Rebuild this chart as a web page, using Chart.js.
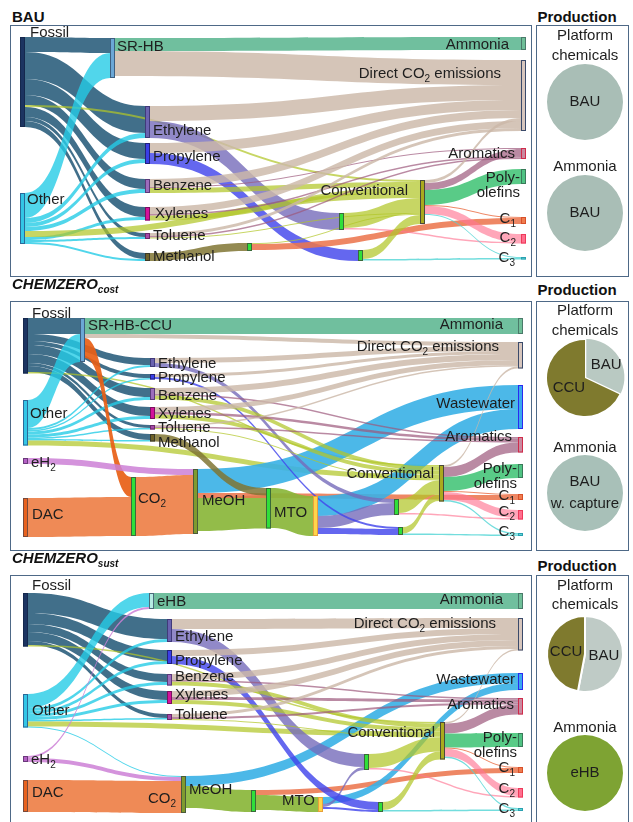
<!DOCTYPE html>
<html>
<head>
<meta charset="utf-8">
<script src="https://cdn.jsdelivr.net/npm/chart.js@4.4.1/dist/chart.umd.min.js"></script>
<style>
body { margin: 0; width: 633px; height: 822px; background: #fff; position: relative; overflow: hidden;
       font-family: "Liberation Sans", Arial, sans-serif; color: #1e1e1e; }
.box { position: absolute; border: 1.5px solid #4e6987; box-sizing: border-box; pointer-events: none; }
.txt { position: absolute; white-space: nowrap; line-height: 18px; font-size: 15px; }
.ttl { font-weight: bold; color: #111; }
.ttl sub { font-size: 10px; vertical-align: -4px; }
canvas { position: absolute; }
</style>
</head>
<body>
<script>
// ---------- data: flows (source, target, value) ----------
var bauFlows = [
    ['Fossil', 'SR-HB', 15], ['Fossil', 'Ethylene', 27], ['Fossil', 'Propylene', 16], ['Fossil', 'Benzene', 10],
    ['Fossil', 'Xylenes', 10], ['Fossil', 'Toluene', 4], ['Fossil', 'Methanol', 6], ['Fossil', 'Conventional', 2],
    ['Other', 'SR-HB', 25], ['Other', 'Ethylene', 5], ['Other', 'Propylene', 4], ['Other', 'Benzene', 4],
    ['Other', 'Xylenes', 3], ['Other', 'Toluene', 2], ['Other', 'Methanol', 2], ['Other', 'Conventional', 6],
    ['SR-HB', 'Ammonia', 13], ['SR-HB', 'DCO2', 25],
    ['Ethylene', 'DCO2', 15], ['Ethylene', 'gA', 17],
    ['Propylene', 'DCO2', 10], ['Propylene', 'gB', 11],
    ['Benzene', 'DCO2', 8], ['Benzene', 'Conventional', 5], ['Benzene', 'Aromatics', 1],
    ['Xylenes', 'DCO2', 7], ['Xylenes', 'Conventional', 5], ['Xylenes', 'Aromatics', 1.5],
    ['Toluene', 'DCO2', 3], ['Toluene', 'Aromatics', 1.5], ['Toluene', 'Conventional', 1],
    ['Methanol', 'gM', 8], ['gM', 'C1', 6], ['gM', 'Conventional', 1],
    ['gA', 'Conventional', 15], ['gA', 'C2', 1.5], ['gB', 'Conventional', 9], ['gB', 'C3', 1.5],
    ['Conventional', 'Aromatics', 7], ['Conventional', 'DCO2', 3], ['Conventional', 'Poly', 15],
    ['Conventional', 'C1', 1], ['Conventional', 'C2', 8], ['Conventional', 'C3', 1]
];

var costFlows = [
    ['Fossil', 'SR-HB-CCU', 16], ['Fossil', 'Ethylene', 7], ['Fossil', 'Propylene', 4], ['Fossil', 'Benzene', 9],
    ['Fossil', 'Xylenes', 9], ['Fossil', 'Toluene', 3], ['Fossil', 'Methanol', 6], ['Fossil', 'Conventional', 1.5],
    ['Other', 'SR-HB-CCU', 28], ['Other', 'Ethylene', 2], ['Other', 'Propylene', 1.5], ['Other', 'Benzene', 3],
    ['Other', 'Xylenes', 3], ['Other', 'Toluene', 1.5], ['Other', 'Methanol', 1.5], ['Other', 'Conventional', 5],
    ['SR-HB-CCU', 'Ammonia', 16], ['SR-HB-CCU', 'DCO2', 4], ['SR-HB-CCU', 'CO2', 20],
    ['eH2', 'MeOH', 6], ['DAC', 'CO2', 39], ['CO2', 'MeOH', 59],
    ['MeOH', 'Wastewater', 24], ['MeOH', 'MTO', 33], ['MeOH', 'C1', 5], ['Methanol', 'MTO', 7.5],
    ['MTO', 'Y', 40], ['Y', 'Wastewater', 20], ['Y', 'gA', 12], ['Y', 'gB', 6],
    ['Ethylene', 'DCO2', 5], ['Ethylene', 'gA', 4], ['Propylene', 'DCO2', 3], ['Propylene', 'gB', 2],
    ['Benzene', 'DCO2', 6], ['Benzene', 'Conventional', 4], ['Benzene', 'Aromatics', 1.5],
    ['Xylenes', 'DCO2', 5], ['Xylenes', 'Conventional', 4], ['Xylenes', 'Aromatics', 2.5],
    ['Toluene', 'DCO2', 1.5], ['Toluene', 'Aromatics', 1.5], ['Toluene', 'Conventional', 1],
    ['gA', 'Conventional', 14], ['gA', 'C2', 1.5], ['gB', 'Conventional', 6.5], ['gB', 'C3', 1.5],
    ['Conventional', 'Aromatics', 10], ['Conventional', 'DCO2', 2], ['Conventional', 'Poly', 14],
    ['Conventional', 'C1', 1], ['Conventional', 'C2', 8], ['Conventional', 'C3', 1.5]
];

var sustFlows = [
    ['Fossil', 'Ethylene', 20], ['Fossil', 'Propylene', 11], ['Fossil', 'Benzene', 8], ['Fossil', 'Xylenes', 9],
    ['Fossil', 'Toluene', 4], ['Fossil', 'Conventional', 1.5],
    ['Other', 'eHB', 14], ['Other', 'Ethylene', 3], ['Other', 'Propylene', 3], ['Other', 'Benzene', 3],
    ['Other', 'Xylenes', 3], ['Other', 'Toluene', 1.5], ['Other', 'Conventional', 5], ['Other', 'MeOH', 1],
    ['eH2', 'eHB', 2], ['eH2', 'MeOH', 4], ['DAC', 'CO2', 32], ['CO2', 'MeOH', 32],
    ['eHB', 'Ammonia', 16],
    ['MeOH', 'Wastewater', 10], ['MeOH', 'gM', 22], ['gM', 'C1', 5], ['gM', 'Y', 15],
    ['Y', 'Wastewater', 7], ['Y', 'gA', 3], ['Y', 'gB', 2],
    ['Ethylene', 'DCO2', 10], ['Ethylene', 'gA', 13], ['Propylene', 'DCO2', 6], ['Propylene', 'gB', 8],
    ['Benzene', 'DCO2', 6], ['Benzene', 'Conventional', 4], ['Benzene', 'Aromatics', 1.5],
    ['Xylenes', 'DCO2', 6], ['Xylenes', 'Conventional', 4], ['Xylenes', 'Aromatics', 3],
    ['Toluene', 'DCO2', 3], ['Toluene', 'Aromatics', 2], ['Toluene', 'Conventional', 1],
    ['gA', 'Conventional', 14], ['gA', 'C2', 1.5], ['gB', 'Conventional', 8], ['gB', 'C3', 1.5],
    ['Conventional', 'Aromatics', 10], ['Conventional', 'DCO2', 1.5], ['Conventional', 'Poly', 14],
    ['Conventional', 'C1', 1], ['Conventional', 'C2', 8], ['Conventional', 'C3', 1.5]
];

// production shares (pies)
var platformLabels = ['BAU', 'CCU'];
var bauPlatform = [100];
var costPlatform = [32, 68];
var sustPlatform = [53, 47];
var bauAmmonia = [100], bauAmmoniaLabel = ['BAU'];
var costAmmonia = [100], costAmmoniaLabel = ['BAU\nw. capture'];
var sustAmmonia = [100], sustAmmoniaLabel = ['eHB'];

// ---------- node text ----------
var nodeText = {
    DCO2: 'Direct CO_2 emissions', CO2: 'CO_2', eH2: 'eH_2', C1: 'C_1', C2: 'C_2', C3: 'C_3',
    Poly: 'Poly-\nolefins', gA: '', gB: '', gM: '', Y: ''
};

// ---------- layout: [x, top, labelX, labelY, align] in scale units ----------
var bauLayout = {
    Fossil: [10, 12, 20, 8, 'l'], Other: [10, 168, 17, 175, 'l'], 'SR-HB': [100, 13, 107, 22, 'l'],
    Ethylene: [135, 81, 143, 106, 'l'], Propylene: [135, 118, 143, 132, 'l'], Benzene: [135, 154, 143, 161, 'l'],
    Xylenes: [135, 182, 145, 189, 'l'], Toluene: [135, 208, 143, 211, 'l'], Methanol: [135, 228, 143, 232, 'l'],
    gM: [237, 218], gA: [329, 188], gB: [348, 225],
    Conventional: [410, 155, 398, 166, 'r'],
    Ammonia: [511, 12, 499, 20, 'r'], DCO2: [511, 35, 491, 49, 'r'], Aromatics: [511, 123, 505, 129, 'r'],
    Poly: [511, 144, 510, 153, 'r'], C1: [511, 192, 506, 194, 'r'], C2: [511, 209, 506, 213, 'r'],
    C3: [511, 232, 505, 233, 'r']
};
var costLayout = {
    Fossil: [13, 17, 22, 13, 'l'], 'SR-HB-CCU': [70, 17, 78, 25, 'l'], Other: [13, 99, 20, 113, 'l'],
    eH2: [13, 157, 21, 162, 'l'], DAC: [13, 197, 22, 214, 'l'],
    CO2: [121, 176, 128, 198, 'l'], MeOH: [183, 168, 192, 200, 'l'], MTO: [256, 187, 264, 212, 'l'], Y: [303, 195],
    Ethylene: [140, 57, 148, 63, 'l'], Propylene: [140, 73, 148, 77, 'l'], Benzene: [140, 87, 148, 95, 'l'],
    Xylenes: [140, 106, 148, 113, 'l'], Toluene: [140, 124, 148, 127, 'l'], Methanol: [140, 133, 148, 142, 'l'],
    gA: [384, 198], gB: [388, 226],
    Conventional: [429, 164, 424, 173, 'r'],
    Ammonia: [508, 17, 493, 24, 'r'], DCO2: [508, 41, 489, 46, 'r'], Wastewater: [508, 84, 505, 103, 'r'],
    Aromatics: [508, 136, 502, 136, 'r'], Poly: [508, 163, 507, 168, 'r'], C1: [508, 193, 505, 195, 'r'],
    C2: [508, 209, 505, 211, 'r'], C3: [508, 232, 505, 231, 'r']
};
var sustLayout = {
    Fossil: [13, 18, 22, 11, 'l'], Other: [13, 119, 22, 136, 'l'], eH2: [13, 181, 21, 185, 'l'],
    DAC: [13, 205, 22, 218, 'l'], eHB: [139, 18, 147, 27, 'l'],
    Ethylene: [157, 44, 165, 62, 'l'], Propylene: [157, 75, 165, 86, 'l'], Benzene: [157, 99, 165, 102, 'l'],
    Xylenes: [157, 116, 165, 120, 'l'], Toluene: [157, 139, 165, 140, 'l'],
    CO2: [171, 206, 166, 224, 'r'], MeOH: [171, 201, 179, 215, 'l'], gM: [241, 215], Y: [308, 222, 305, 226, 'r'],
    gA: [354, 179], gB: [368, 227],
    Conventional: [430, 147, 425, 158, 'r'],
    Ammonia: [508, 18, 493, 25, 'r'], DCO2: [508, 43, 486, 49, 'r'], Wastewater: [508, 98, 505, 105, 'r'],
    Aromatics: [508, 123, 504, 130, 'r'], Poly: [508, 158, 507, 163, 'r'], C1: [508, 192, 505, 193, 'r'],
    C2: [508, 213, 505, 214, 'r'], C3: [508, 233, 505, 234, 'r']
};

// ---------- styles ----------
var GREEN_NODE = ['#2fe03a', '#3a6a3a'];
var nodeStyle = {
    Fossil: { fill: '#1c3461', line: '#15284d', out: 'rgba(32,86,118,0.85)' },
    Other: { fill: '#33c6e6', line: '#2a6a9a', out: 'rgba(38,204,230,0.8)' },
    'SR-HB': { fill: '#6ba7d6', line: '#3d5f80' },
    'SR-HB-CCU': { fill: '#6ba7d6', line: '#3d5f80', out: 'rgba(232,96,22,0.92)' },
    eHB: { fill: '#b6ece4', line: '#4a6a7a' },
    eH2: { fill: '#b45fc4', line: '#6a3a7a', out: 'rgba(204,128,214,0.85)' },
    DAC: { fill: '#e8621e', line: '#7a4a3a', out: 'rgba(238,128,72,0.92)' },
    CO2: { fill: GREEN_NODE[0], line: GREEN_NODE[1], out: 'rgba(238,128,72,0.92)' },
    MeOH: { fill: '#7f9b2f', line: '#4a5a3a', out: 'rgba(138,182,58,0.92)' },
    MTO: { fill: GREEN_NODE[0], line: GREEN_NODE[1], out: 'rgba(138,182,58,0.92)' },
    gM: { fill: GREEN_NODE[0], line: GREEN_NODE[1], out: 'rgba(138,182,58,0.92)' },
    Y: { fill: '#ffd54a', line: '#e8a03a' },
    Ethylene: { fill: '#6a62b0', line: '#403a7a', out: 'rgba(112,104,182,0.8)' },
    Propylene: { fill: '#3a3ee8', line: '#22227a', out: 'rgba(70,72,236,0.8)' },
    Benzene: { fill: '#9c6cbc', line: '#5a3a7a' },
    Xylenes: { fill: '#d4129c', line: '#7a1060' },
    Toluene: { fill: '#a648a8', line: '#6a2a6a' },
    Methanol: { fill: '#6e6128', line: '#3a3a2a', out: 'rgba(128,118,52,0.85)' },
    gA: { fill: GREEN_NODE[0], line: GREEN_NODE[1], in: 'rgba(118,108,186,0.8)' },
    gB: { fill: GREEN_NODE[0], line: GREEN_NODE[1], in: 'rgba(66,70,236,0.82)' },
    Conventional: { fill: '#aaaa1e', line: '#4a4a3a', in: 'rgba(178,198,40,0.72)' },
    Ammonia: { fill: '#6fbf98', line: '#4a7a6a', in: 'rgba(100,186,150,0.92)' },
    DCO2: { fill: '#d7c6bd', line: '#3a4a6a', in: 'rgba(204,184,168,0.82)' },
    Wastewater: { fill: '#3aa8ee', line: '#2a2af0', in: 'rgba(56,176,230,0.9)' },
    Aromatics: { fill: '#c98aa0', line: '#d02a4a', in: 'rgba(156,88,124,0.7)' },
    Poly: { fill: '#4fc383', line: '#3a7a5a', in: 'rgba(66,196,118,0.88)' },
    C1: { fill: '#ef7c4e', line: '#d8502a', in: 'rgba(236,118,78,0.88)' },
    C2: { fill: '#ff6f8e', line: '#ee3a5a', in: 'rgba(255,118,148,0.65)' },
    C3: { fill: '#5fd6d6', line: '#2aa0b0', in: 'rgba(80,212,212,0.8)' }
};

var MAIN_FONT = '15px "Liberation Sans", Arial, sans-serif';
var SUB_FONT = '10px "Liberation Sans", Arial, sans-serif';

function drawRich(ctx, text, x, y, align, lh, vcenter) {
    var lines = text.split('\n');
    var y0 = vcenter ? y - (lines.length - 1) * lh / 2 : y;
    ctx.fillStyle = '#1e1e1e';
    ctx.textBaseline = 'middle';
    ctx.textAlign = 'left';
    lines.forEach(function (line, i) {
        var parts = line.split(/_(\w)/);
        var w = 0;
        parts.forEach(function (p, j) {
            ctx.font = j % 2 ? SUB_FONT : MAIN_FONT;
            w += ctx.measureText(p).width;
        });
        var cx = align === 'r' ? x - w : (align === 'c' ? x - w / 2 : x);
        var cy = y0 + i * lh;
        parts.forEach(function (p, j) {
            ctx.font = j % 2 ? SUB_FONT : MAIN_FONT;
            ctx.fillText(p, cx, j % 2 ? cy + 5 : cy);
            cx += ctx.measureText(p).width;
        });
    });
}

// ---------- sankey drawn through the chart's x/y scales ----------
function drawSankey(chart, cfg) {
    var ctx = chart.ctx, xs = chart.scales.x, ys = chart.scales.y;
    var NODE_W = 5;
    var nodes = {};
    Object.keys(cfg.layout).forEach(function (id) {
        var p = cfg.layout[id];
        nodes[id] = { id: id, x: p[0], y: p[1], lx: p[2], ly: p[3], al: p[4], ins: [], outs: [], inSum: 0, outSum: 0,
                      w: cfg.hidden.indexOf(id) >= 0 ? 0 : NODE_W };
    });
    var links = cfg.flows.map(function (f) {
        var l = { s: nodes[f[0]], t: nodes[f[1]], v: f[2] };
        l.s.outs.push(l); l.t.ins.push(l);
        l.s.outSum += l.v; l.t.inSum += l.v;
        return l;
    });
    Object.keys(nodes).forEach(function (id) {
        var n = nodes[id];
        n.h = Math.max(n.inSum, n.outSum);
        n.cy = n.y + n.h / 2;
    });
    Object.keys(nodes).forEach(function (id) {
        var n = nodes[id], off = n.y;
        n.outs.slice().sort(function (a, b) { return a.t.cy - b.t.cy; }).forEach(function (l) { l.sy = off; off += l.v; });
        off = n.y;
        n.ins.slice().sort(function (a, b) { return a.s.cy - b.s.cy; }).forEach(function (l) { l.ty = off; off += l.v; });
    });

    ctx.save();
    links.forEach(function (l) {
        var x0 = xs.getPixelForValue(l.s.x + l.s.w), x1 = xs.getPixelForValue(l.t.x);
        if (x1 - x0 < 1) return;
        var y0a = ys.getPixelForValue(l.sy), y0b = ys.getPixelForValue(l.sy + l.v);
        var y1a = ys.getPixelForValue(l.ty), y1b = ys.getPixelForValue(l.ty + l.v);
        var xm = (x0 + x1) / 2;
        var st = nodeStyle[l.t.id], ss = nodeStyle[l.s.id];
        ctx.fillStyle = st.in || ss.out || 'rgba(160,160,160,0.6)';
        ctx.beginPath();
        ctx.moveTo(x0, y0a);
        ctx.bezierCurveTo(xm, y0a, xm, y1a, x1, y1a);
        ctx.lineTo(x1, y1b);
        ctx.bezierCurveTo(xm, y1b, xm, y0b, x0, y0b);
        ctx.closePath();
        ctx.fill();
    });

    Object.keys(nodes).forEach(function (id) {
        var n = nodes[id];
        if (!n.w) return;
        var px = xs.getPixelForValue(n.x), pw = xs.getPixelForValue(n.x + n.w) - px;
        var py = ys.getPixelForValue(n.y), ph = ys.getPixelForValue(n.y + n.h) - py;
        ctx.fillStyle = nodeStyle[id].fill;
        ctx.fillRect(px, py, pw, ph);
        ctx.strokeStyle = nodeStyle[id].line;
        ctx.lineWidth = 1;
        ctx.strokeRect(px + 0.5, py + 0.5, pw - 1, Math.max(ph - 1, 0.5));
    });

    Object.keys(nodes).forEach(function (id) {
        var n = nodes[id];
        var text = cfg.labels[id] !== undefined ? cfg.labels[id] : (nodeText[id] !== undefined ? nodeText[id] : id);
        if (!text || n.lx === undefined) return;
        drawRich(ctx, text, xs.getPixelForValue(n.lx), ys.getPixelForValue(n.ly), n.al, 14.5, false);
    });
    ctx.restore();
}

function sankeyChart(left, top, w, h, flows, layout, labels, hidden) {
    var c = document.createElement('canvas');
    c.width = w; c.height = h;
    c.style.left = left + 'px'; c.style.top = top + 'px';
    document.body.appendChild(c);
    var cfg = { flows: flows, layout: layout, labels: labels, hidden: hidden };
    return new Chart(c, {
        type: 'scatter',
        data: { datasets: [{ data: [], pointRadius: 0 }] },
        options: {
            responsive: false,
            animation: false,
            layout: { padding: 0 },
            plugins: { legend: { display: false }, tooltip: { enabled: false } },
            scales: {
                x: { type: 'linear', min: 0, max: w, display: false },
                y: { type: 'linear', min: 0, max: h, reverse: true, display: false }
            }
        },
        plugins: [{ id: 'sankeyFlows', afterDatasetsDraw: function (chart) { drawSankey(chart, cfg); } }]
    });
}

function pieChart(cx, cy, values, labels, colours, offsets, border) {
    var size = 100;
    var c = document.createElement('canvas');
    c.width = size; c.height = size;
    c.style.left = (cx - size / 2) + 'px'; c.style.top = (cy - size / 2) + 'px';
    document.body.appendChild(c);
    return new Chart(c, {
        type: 'pie',
        data: {
            labels: labels,
            datasets: [{
                data: values,
                backgroundColor: colours,
                borderColor: '#ffffff',
                borderWidth: border,
                offset: offsets,
                hoverOffset: 0
            }]
        },
        options: {
            responsive: false,
            animation: false,
            radius: 38,
            layout: { padding: 0 },
            plugins: { legend: { display: false }, tooltip: { enabled: false } }
        },
        plugins: [{
            id: 'pieText',
            afterDatasetsDraw: function (chart) {
                var ctx = chart.ctx;
                var arcs = chart.getDatasetMeta(0).data;
                arcs.forEach(function (arc, i) {
                    var p = arc.getProps(['x', 'y', 'startAngle', 'endAngle', 'outerRadius']);
                    var tx = p.x, ty = p.y;
                    if (arcs.length > 1) {
                        var mid = (p.startAngle + p.endAngle) / 2;
                        var r = p.outerRadius * 0.5 + (offsets[i] || 0);
                        tx = p.x + Math.cos(mid) * r;
                        ty = p.y + Math.sin(mid) * r;
                    }
                    drawRich(ctx, labels[i], tx, ty, 'c', 22, true);
                });
            }
        }]
    });
}

function box(left, top, w, h) {
    var d = document.createElement('div');
    d.className = 'box';
    d.style.left = left + 'px'; d.style.top = top + 'px';
    d.style.width = w + 'px'; d.style.height = h + 'px';
    document.body.appendChild(d);
}

function text(html, x, y, cls, anchor) {
    var d = document.createElement('div');
    d.className = 'txt ' + (cls || '');
    d.innerHTML = html;
    d.style.left = x + 'px'; d.style.top = y + 'px';
    d.style.transform = anchor === 'c' ? 'translate(-50%,-50%)' : 'translate(0,-50%)';
    document.body.appendChild(d);
}

document.addEventListener('DOMContentLoaded', function () {
    var PIE_X = 585;
    var BAU_GREY = '#a9beb6', CCU_OLIVE = '#7f7a2e';

    // ----- BAU -----
    text('BAU', 12, 17, 'ttl');
    text('Production', 577, 17, 'ttl', 'c');
    sankeyChart(10, 25, 521, 251, bauFlows, bauLayout, {}, []);
    box(10, 25, 522, 252);
    box(536, 25, 93, 252);
    text('Platform', PIE_X, 35, '', 'c');
    text('chemicals', PIE_X, 55, '', 'c');
    pieChart(PIE_X, 102, bauPlatform, ['BAU'], [BAU_GREY], [0], 0);
    text('Ammonia', PIE_X, 166, '', 'c');
    pieChart(PIE_X, 213, bauAmmonia, bauAmmoniaLabel, [BAU_GREY], [0], 0);

    // ----- CHEMZERO cost -----
    text('<i>CHEMZERO<sub>cost</sub></i>', 12, 287, 'ttl');
    text('Production', 577, 290, 'ttl', 'c');
    sankeyChart(10, 301, 521, 249, costFlows, costLayout, {}, []);
    box(10, 301, 522, 250);
    box(536, 301, 93, 250);
    text('Platform', PIE_X, 310, '', 'c');
    text('chemicals', PIE_X, 330, '', 'c');
    pieChart(PIE_X, 378, costPlatform, platformLabels, ['#b9c9c2', CCU_OLIVE], [6, 0], 0);
    text('Ammonia', PIE_X, 447, '', 'c');
    pieChart(PIE_X, 493, costAmmonia, costAmmoniaLabel, ['#a8c0b8'], [0], 0);

    // ----- CHEMZERO sust -----
    text('<i>CHEMZERO<sub>sust</sub></i>', 12, 561, 'ttl');
    text('Production', 577, 566, 'ttl', 'c');
    sankeyChart(10, 575, 521, 250, sustFlows, sustLayout, { Y: 'MTO' }, ['CO2']);
    box(10, 575, 522, 256);
    box(536, 575, 93, 256);
    text('Platform', PIE_X, 585, '', 'c');
    text('chemicals', PIE_X, 604, '', 'c');
    pieChart(PIE_X, 654, sustPlatform, platformLabels, ['#bfcbc6', CCU_OLIVE], [0, 0], 2);
    text('Ammonia', PIE_X, 727, '', 'c');
    pieChart(PIE_X, 773, sustAmmonia, sustAmmoniaLabel, ['#7ea333'], [0], 0);
});
</script>
</body>
</html>
